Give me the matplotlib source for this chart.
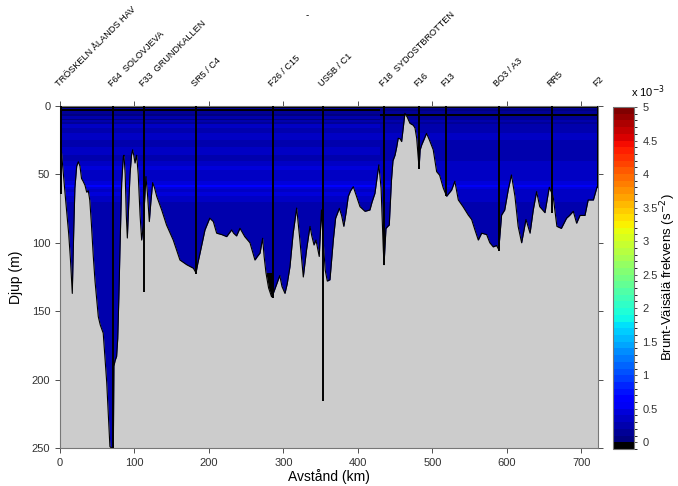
#!/usr/bin/env python3
import numpy as np
import matplotlib
matplotlib.use("Agg")
import matplotlib.pyplot as plt
from matplotlib.colors import ListedColormap, BoundaryNorm
from matplotlib.transforms import blended_transform_factory

plt.rcParams['font.family'] = ['Liberation Sans', 'DejaVu Sans']

# bottom profile along the transect (km, m)
bottom_km = [0, 1, 3.6, 7.6, 11.6, 14, 16.5, 17.5, 18.5, 20, 22.4, 24.6, 26.8, 28.9, 31, 33.6,
             35.8, 38, 40, 42, 44.7, 47, 51.4, 54, 58, 62.7, 67, 71.6, 72.4, 74, 76, 77.5, 79,
             80.5, 82.8, 85, 85.9, 87.5, 89, 90.4, 92, 94, 96, 97.5, 99, 100.7, 102.9, 105,
             107.5, 109.6, 111.9, 113.5, 115.4, 117.5, 119.9, 122, 124.4, 127, 129.8, 136.5,
             143, 152, 161, 170, 179, 182.6, 185, 188, 194.6, 201, 205.8, 210.3, 217, 223.7,
             230.4, 233, 237, 241.6, 248, 255, 261.7, 265, 268.5, 272, 274, 276.5, 280, 284,
             287, 291, 295, 298, 302, 305, 308.7, 313, 317.7, 322, 326.6, 331, 335.6, 338,
             341, 343.6, 348, 351, 353.5, 356, 358.8, 362.4, 366.9, 370, 375, 378, 381, 384,
             387, 390, 393.7, 398, 402.7, 409.4, 416, 419, 422.8, 428, 431, 434, 435, 436.5,
             437.6, 440, 442, 445, 447, 449.7, 452, 454, 456.5, 458.6, 461, 463, 466, 469.8,
             474, 476.5, 478.8, 482, 483.5, 485.5, 489, 492, 496, 501, 505.6, 509.6, 514.5,
             519, 525.7, 530, 534.7, 541, 548, 552.6, 557, 561.5, 566, 572.7, 577, 581.6, 586,
             589, 592.8, 597, 601.8, 606, 610.7, 615, 619.7, 625.5, 631, 635.3, 639.8, 644,
             651, 656.8, 662, 667, 673, 680, 684, 689, 693.5, 698, 704.7, 709, 716, 721, 722.6]
bottom_m = [26, 27, 44, 69, 93, 112, 137, 112, 90, 60, 44, 40.7, 44, 53, 55, 58,
            63, 62, 69, 85, 110, 128, 154, 160, 166, 202, 249, 251, 190, 186, 183, 170, 140,
            105, 56, 37, 36, 50, 80, 96.5, 75, 50, 36, 32, 36, 41.7, 36, 50,
            80, 98, 87, 70, 51.6, 65, 84.5, 70, 56, 60, 66, 76,
            87, 98, 112.6, 116, 118.6, 122, 115, 107.5, 90.6, 82, 84.5, 93, 94, 95.5,
            90.6, 93, 95, 89.4, 95.5, 100, 112.6, 110, 107.5, 96.7, 110, 122, 133, 139.5,
            136, 130, 124, 132, 137, 130, 117.5, 93, 74.6, 98, 125, 105, 88, 95,
            101.6, 98, 110, 76, 100, 120, 128, 127, 98, 82, 74.8, 80, 88, 78,
            66, 62, 59, 66, 73.6, 77, 76, 70, 63.8, 43, 60, 105, 116, 100,
            89.5, 88, 87, 54, 40, 36, 30, 23.6, 24, 26, 15, 5.4, 8, 12.7,
            14, 16, 23.6, 45.6, 32, 28.5, 24, 20, 25, 32, 48, 50.6, 60,
            66, 61.4, 55, 68.7, 73.6, 79.7, 83, 90.6, 98, 93, 94, 100, 103, 102,
            105, 79.7, 76, 61, 50.4, 66, 88, 100, 83, 93, 76, 62.6, 73.6,
            78, 59.4, 66, 88, 89.5, 82, 80, 77, 85.7, 80, 80, 68.7, 68.7, 59, 59]

# stations
st_names = ["TRÖSKELN ÅLANDS HAV", "F64  SOLOVJEVA", "F33  GRUNDKALLEN", "SR5 / C4",
            "F26 / C15", "US5B / C1", "F18  SYDOSTBROTTEN", "F16", "F13", "BO3 / A3",
            "RR5", "F2"]
st_km = [1, 71.6, 113, 183, 286.4, 353.5, 435.3, 482, 518, 589, 660, 722]
st_depth = [64, 250, 136, 123, 140, 216, 116, 46, 66, 106, 78, 60]

# Brunt-Väisälä frequency (x 10^-3 s^-2), layered field
depth_edges = [0, 1.5, 2.5, 3.5, 5.5, 7, 9.5, 10.5, 12, 13.5, 16, 20, 25, 30, 36, 40, 44, 47,
               52, 55, 57.5, 59.5, 61, 63, 66, 70, 80, 100, 122, 140, 250]
dist_edges = [0, 276.5, 286, 430, 722.6]
n2_west = [-0.05, 0.15, -0.05, 0.15, 0.05, 0.25, 0.05, 0.25, 0.1, 0.3, 0.25, 0.35, 0.25, 0.3,
           0.25, 0.3, 0.45, 0.3, 0.35, 0.45, 0.6, 0.45, 0.35, 0.45, 0.3, 0.25, 0.2, 0.2,
           0.2, 0.2]
n2_f26 = [-0.05, 0.15, -0.05, 0.15, 0.05, 0.25, 0.05, 0.25, 0.1, 0.3, 0.25, 0.35, 0.25, 0.3,
          0.25, 0.3, 0.45, 0.3, 0.35, 0.45, 0.6, 0.45, 0.35, 0.45, 0.3, 0.25, 0.2, 0.2,
          -0.05, -0.05]
n2_east = [-0.05, 0.1, 0.05, 0.15, -0.05, 0.1, 0.15, 0.2, 0.15, 0.25, 0.2, 0.3, 0.25, 0.25,
           0.25, 0.3, 0.35, 0.3, 0.3, 0.4, 0.5, 0.4, 0.3, 0.35, 0.3, 0.25, 0.2, 0.2,
           0.2, 0.2]

n2 = np.column_stack([n2_west, n2_f26, n2_west, n2_east])

# colormap: black for negative, jet above
cols = ['black'] + [plt.cm.jet(i / 49) for i in range(50)]
cmap = ListedColormap(cols)
norm = BoundaryNorm(np.linspace(-0.1, 5.0, 52), cmap.N)

fig = plt.figure(figsize=(6.78, 4.86), dpi=100)
ax = fig.add_axes([60 / 678, 38 / 486, 538.3 / 678, 342 / 486])
cax = fig.add_axes([613 / 678, 37 / 486, 21 / 678, 342 / 486])

mesh = ax.pcolormesh(dist_edges, depth_edges, n2, cmap=cmap, norm=norm, zorder=1)
ax.fill_between(bottom_km, bottom_m, 260, color='#cccccc', lw=0, zorder=2)
ax.plot(bottom_km, bottom_m, color='k', lw=0.8, zorder=3)
ax.vlines(st_km, 0, st_depth, colors='k', lw=1.4, zorder=4)

ax.set_xlim(0, 722.6)
ax.set_ylim(250, 0)
ax.set_xticks(range(0, 701, 100))
ax.set_yticks(range(0, 251, 50))
ax.tick_params(direction='out', length=3.5, width=0.6, labelsize=8, colors='#333333',
               top=True, right=True, labeltop=False, labelright=False)
for sp in ax.spines.values():
    sp.set_color('#777777')
    sp.set_linewidth(0.8)
ax.set_xlabel('Avstånd (km)', fontsize=10, labelpad=1)
ax.set_ylabel('Djup (m)', fontsize=10, labelpad=6)

trans = blended_transform_factory(ax.transData, ax.transAxes)
for name, km in zip(st_names, st_km):
    ax.text(km, 1.05, name, transform=trans, rotation=45, rotation_mode='anchor',
            ha='left', va='bottom', fontsize=6.6, clip_on=False)

cb = fig.colorbar(mesh, cax=cax, ticks=np.arange(0, 5.01, 0.5))
cb.set_ticklabels(['0', '0.5', '1', '1.5', '2', '2.5', '3', '3.5', '4', '4.5', '5'])
cb.ax.tick_params(labelsize=8, length=2.5, width=0.6, colors='#333333')
cb.outline.set_edgecolor('#777777')
cb.outline.set_linewidth(0.8)
fig.text(668 / 678, 1 - 277 / 486, 'Brunt-Väisälä frekvens (s$^{-2}$)', fontsize=9.5,
         rotation=90, ha='center', va='center')
fig.text(631 / 678, 1 - 100 / 486, 'x 10$^{-3}$', fontsize=8, ha='left', va='bottom')
fig.text(306 / 678, 1 - 18 / 486, '-', fontsize=7)

plt.savefig('out.png', dpi=100)
